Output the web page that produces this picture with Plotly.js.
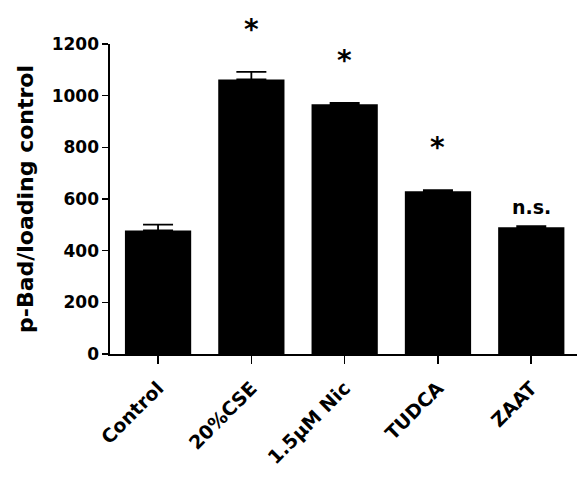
<!DOCTYPE html>
<html>
<head>
<meta charset="utf-8">
<script src="https://cdn.plot.ly/plotly-3.0.1.min.js"></script>
<style>html,body{margin:0;padding:0;background:#fff;}#chart{width:580px;height:484px;}</style>
</head>
<body>
<div id="chart"></div>
<script>
var categories = ["Control", "20%CSE", "1.5\u00b5M Nic", "TUDCA", "ZAAT"];
var values = [478, 1063, 967, 630, 491];
var errors = [23, 29, 5, 4, 4];
var marks = ["", "*", "*", "*", "n.s."];
var yTicks = [0, 200, 400, 600, 800, 1000, 1200];

var FONT = "DejaVu Sans, Liberation Sans, Arial, sans-serif";

var trace = {
  type: "bar",
  x: categories,
  y: values,
  width: 0.71,
  marker: {color: "#000", line: {width: 0}},
  error_y: {type: "data", symmetric: false, array: errors, arrayminus: errors.map(function(){return 0;}), color: "#000", thickness: 1.8, width: 15},
  hoverinfo: "none"
};

var annotations = [];
for (var i = 0; i < categories.length; i++) {
  if (!marks[i]) continue;
  var isStar = marks[i] === "*";
  annotations.push({
    x: categories[i], y: values[i] + errors[i], xref: "x", yref: "y",
    text: marks[i], showarrow: false, yanchor: "bottom",
    yshift: isStar ? 24 : 6,
    font: {family: FONT, size: isStar ? 28 : 19, color: "#000", weight: "bold"}
  });
}

var layout = {
  width: 580, height: 484,
  margin: {l: 110, r: 3, t: 44, b: 130},
  paper_bgcolor: "#fff", plot_bgcolor: "#fff",
  showlegend: false,
  bargap: 0.29,
  xaxis: {
    type: "category", range: [-0.515, 4.49],
    showline: true, linecolor: "#000", linewidth: 1.6,
    ticks: "outside", ticklen: 8, tickwidth: 1.6, tickcolor: "#000",
    tickangle: -45, ticklabelstandoff: 6,
    tickfont: {family: FONT, size: 19, color: "#000", weight: "bold"},
    showgrid: false, zeroline: false, fixedrange: true, automargin: false
  },
  yaxis: {
    range: [0, 1200], tickvals: yTicks, ticktext: yTicks.map(String),
    showline: true, linecolor: "#000", linewidth: 1.6,
    ticks: "outside", ticklen: 6, tickwidth: 1.6, tickcolor: "#000",
    tickfont: {family: FONT, size: 17, color: "#000", weight: "bold"},
    title: {text: "p-Bad/loading control", font: {family: FONT, size: 22, color: "#000", weight: "bold"}, standoff: 12},
    showgrid: false, zeroline: false, fixedrange: true, automargin: false
  },
  annotations: annotations
};

Plotly.newPlot("chart", [trace], layout, {displayModeBar: false, staticPlot: true});
</script>
</body>
</html>
